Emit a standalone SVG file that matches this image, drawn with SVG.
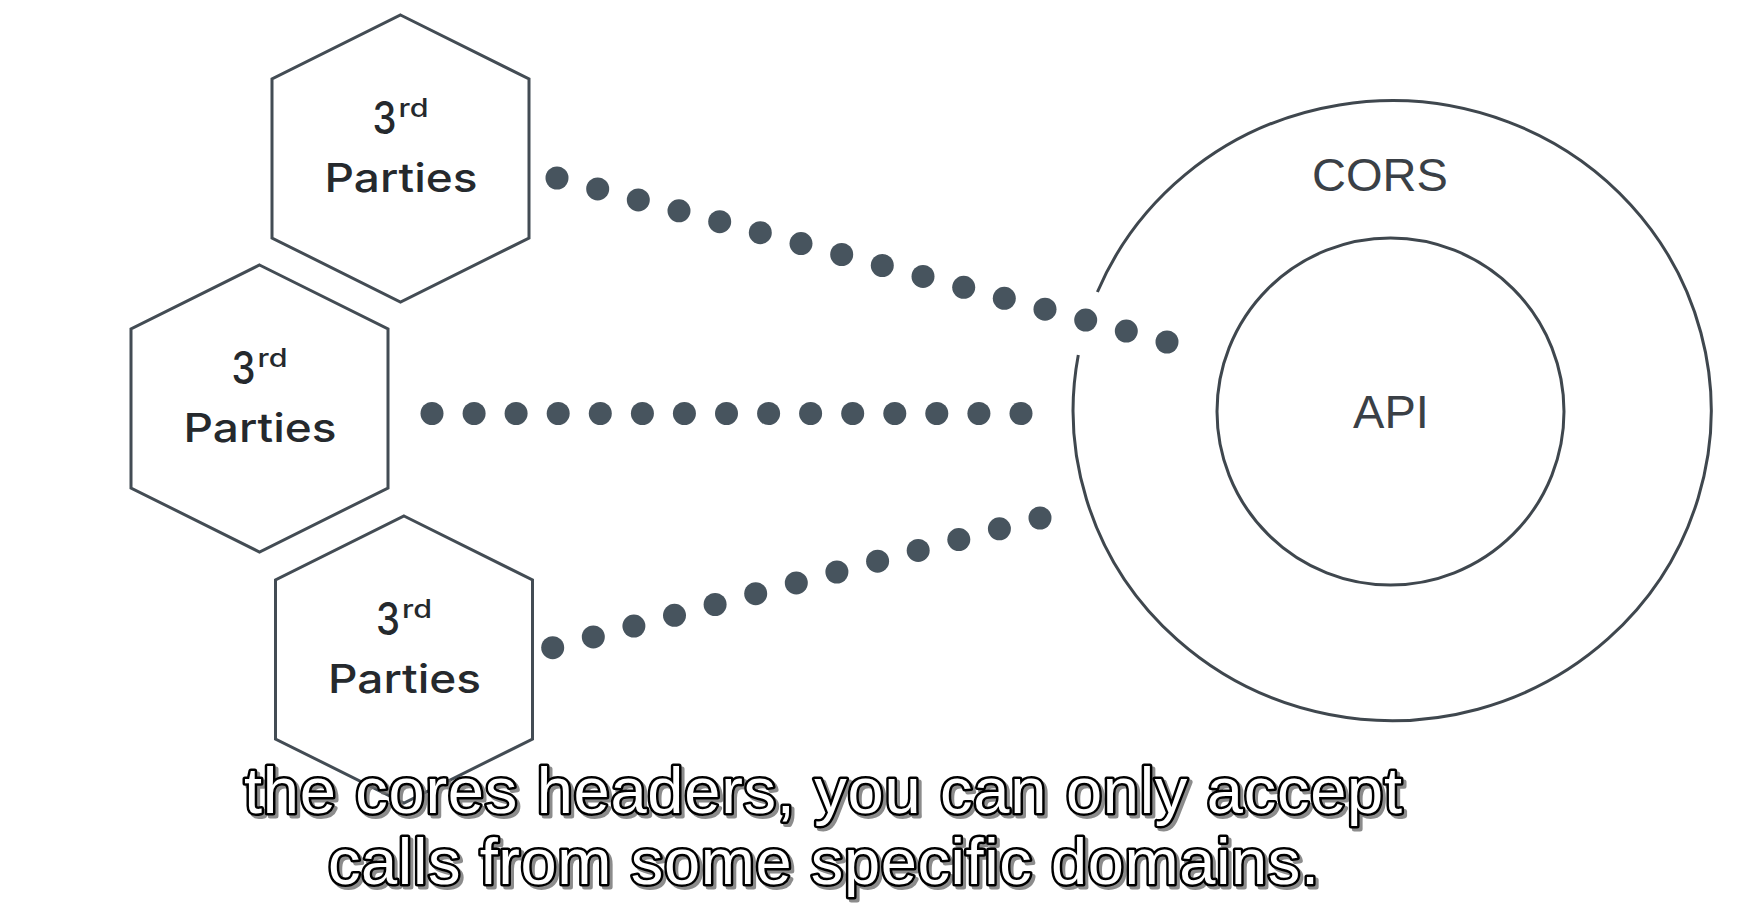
<svg xmlns="http://www.w3.org/2000/svg" xmlns:xlink="http://www.w3.org/1999/xlink" width="1757" height="909" viewBox="0 0 1757 909">
  <style>
    .hexfill { fill: #ffffff; stroke: #434c54; stroke-width: 3; }
    .ring { fill: none; stroke: #3f474e; stroke-width: 3; }
    .party { font-family: "Inter", "Liberation Sans", sans-serif; font-weight: 500; fill: #25292d; }
    .p3 { font-size: 45px; }
    .prd { font-size: 25px; }
    .pname { font-size: 40px; }
    .label { font-family: "Liberation Sans", Arial, sans-serif; font-size: 47px; fill: #3a4046; text-anchor: middle; }
    .dot { fill: #47545e; }
    .sub { font-family: "Liberation Sans", Arial, sans-serif; font-size: 65px; }
    .subshadow { fill: #707070; stroke: #707070; stroke-width: 5; stroke-linejoin: round; opacity: 0.8; }
    .subtext { fill: #ffffff; stroke: #000000; stroke-width: 5; stroke-linejoin: round; paint-order: stroke; }
  </style>
  <defs>
    <path id="hex" d="M0 0 L128.5 64 L128.5 223 L0 287 L-128.5 223 L-128.5 64 Z"/>
  </defs>
  <rect width="1757" height="909" fill="#ffffff"/>

  <g id="hex1" transform="translate(400.5,15)">
    <use xlink:href="#hex" class="hexfill"/>
    <text class="party p3" x="-28" y="119" textLength="24" lengthAdjust="spacingAndGlyphs">3</text>
    <text class="party prd" x="-2" y="102" textLength="30" lengthAdjust="spacingAndGlyphs">rd</text>
    <text class="party pname" x="-76" y="177" textLength="153" lengthAdjust="spacingAndGlyphs">Parties</text>
  </g>
  <g id="hex2" transform="translate(259.5,265)">
    <use xlink:href="#hex" class="hexfill"/>
    <text class="party p3" x="-28" y="119" textLength="24" lengthAdjust="spacingAndGlyphs">3</text>
    <text class="party prd" x="-2" y="102" textLength="30" lengthAdjust="spacingAndGlyphs">rd</text>
    <text class="party pname" x="-76" y="177" textLength="153" lengthAdjust="spacingAndGlyphs">Parties</text>
  </g>
  <g id="hex3" transform="translate(404,516)">
    <use xlink:href="#hex" class="hexfill"/>
    <text class="party p3" x="-28" y="119" textLength="24" lengthAdjust="spacingAndGlyphs">3</text>
    <text class="party prd" x="-2" y="102" textLength="30" lengthAdjust="spacingAndGlyphs">rd</text>
    <text class="party pname" x="-76" y="177" textLength="153" lengthAdjust="spacingAndGlyphs">Parties</text>
  </g>

  <g id="cors">
    <path class="ring" d="M1097.4 292 A319 310 0 1 1 1078.3 355"/>
    <text class="label" x="1380" y="191">CORS</text>
  </g>
  <g id="api">
    <circle class="ring" cx="1390.5" cy="411.5" r="173.5"/>
    <text class="label" x="1391" y="428">API</text>
  </g>

  <g id="connectors">
    <g id="conn1" class="dot">
      <circle cx="557.0" cy="178.0" r="11.5"/>
      <circle cx="597.7" cy="188.9" r="11.5"/>
      <circle cx="638.3" cy="199.9" r="11.5"/>
      <circle cx="679.0" cy="210.8" r="11.5"/>
      <circle cx="719.7" cy="221.7" r="11.5"/>
      <circle cx="760.3" cy="232.7" r="11.5"/>
      <circle cx="801.0" cy="243.6" r="11.5"/>
      <circle cx="841.7" cy="254.5" r="11.5"/>
      <circle cx="882.3" cy="265.5" r="11.5"/>
      <circle cx="923.0" cy="276.4" r="11.5"/>
      <circle cx="963.7" cy="287.3" r="11.5"/>
      <circle cx="1004.3" cy="298.3" r="11.5"/>
      <circle cx="1045.0" cy="309.2" r="11.5"/>
      <circle cx="1085.7" cy="320.1" r="11.5"/>
      <circle cx="1126.3" cy="331.1" r="11.5"/>
      <circle cx="1167.0" cy="342.0" r="11.5"/>
    </g>
    <g id="conn2" class="dot">
      <circle cx="432.0" cy="413.5" r="11.5"/>
      <circle cx="474.1" cy="413.5" r="11.5"/>
      <circle cx="516.1" cy="413.5" r="11.5"/>
      <circle cx="558.2" cy="413.5" r="11.5"/>
      <circle cx="600.3" cy="413.5" r="11.5"/>
      <circle cx="642.4" cy="413.5" r="11.5"/>
      <circle cx="684.4" cy="413.5" r="11.5"/>
      <circle cx="726.5" cy="413.5" r="11.5"/>
      <circle cx="768.6" cy="413.5" r="11.5"/>
      <circle cx="810.6" cy="413.5" r="11.5"/>
      <circle cx="852.7" cy="413.5" r="11.5"/>
      <circle cx="894.8" cy="413.5" r="11.5"/>
      <circle cx="936.8" cy="413.5" r="11.5"/>
      <circle cx="978.9" cy="413.5" r="11.5"/>
      <circle cx="1021.0" cy="413.5" r="11.5"/>
    </g>
    <g id="conn3" class="dot">
      <circle cx="552.7" cy="647.7" r="11.5"/>
      <circle cx="593.3" cy="636.9" r="11.5"/>
      <circle cx="633.9" cy="626.1" r="11.5"/>
      <circle cx="674.5" cy="615.3" r="11.5"/>
      <circle cx="715.1" cy="604.5" r="11.5"/>
      <circle cx="755.7" cy="593.7" r="11.5"/>
      <circle cx="796.3" cy="582.9" r="11.5"/>
      <circle cx="836.9" cy="572.0" r="11.5"/>
      <circle cx="877.6" cy="561.2" r="11.5"/>
      <circle cx="918.2" cy="550.4" r="11.5"/>
      <circle cx="958.8" cy="539.6" r="11.5"/>
      <circle cx="999.4" cy="528.8" r="11.5"/>
      <circle cx="1040.0" cy="518.0" r="11.5"/>
    </g>
  </g>

  <g id="subtitle" class="sub">
    <text class="subshadow" x="247" y="816" textLength="1158" lengthAdjust="spacing">the cores headers, you can only accept</text>
    <text class="subshadow" x="331" y="887" textLength="991" lengthAdjust="spacing">calls from some specific domains.</text>
    <text class="subtext" x="244" y="813" textLength="1158" lengthAdjust="spacing">the cores headers, you can only accept</text>
    <text class="subtext" x="328" y="884" textLength="991" lengthAdjust="spacing">calls from some specific domains.</text>
  </g>
</svg>
